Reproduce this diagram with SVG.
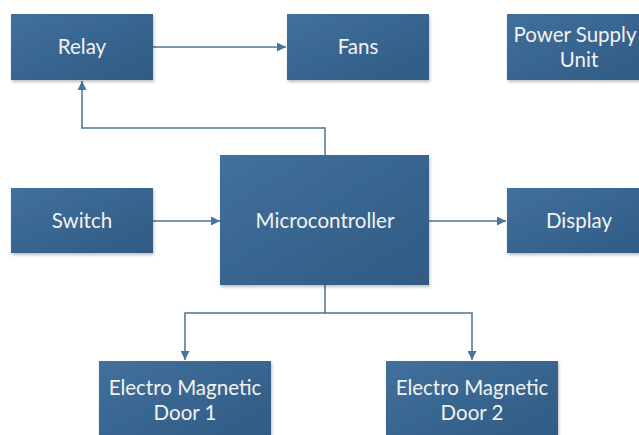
<svg xmlns="http://www.w3.org/2000/svg" width="639" height="435" viewBox="0 0 639 435">
  <defs>
    <linearGradient id="g" x1="0" y1="0" x2="1" y2="1">
      <stop offset="0" stop-color="#41709c"/>
      <stop offset="1" stop-color="#2f5b83"/>
    </linearGradient>
    <filter id="sh" x="-10%" y="-10%" width="120%" height="130%">
      <feDropShadow dx="1" dy="2" stdDeviation="1.5" flood-color="#000" flood-opacity="0.25"/>
    </filter>
    <marker id="ah" viewBox="0 0 10 10" refX="10" refY="5" markerWidth="9" markerHeight="9" markerUnits="userSpaceOnUse" orient="auto">
      <path d="M0,0 L10,5 L0,10 z" fill="#4a7398"/>
    </marker>
  </defs>
  <style>
    .box { fill: url(#g); filter: url(#sh); }
    .t { fill: #f2f2f2; font-family: Lato, "Open Sans", sans-serif; font-size: 20.5px; text-anchor: middle; dominant-baseline: central; }
    .c { fill: none; stroke: #4a7398; stroke-width: 1.5; marker-end: url(#ah); }
  </style>
  <rect width="639" height="435" fill="#ffffff"/>
  <g id="connectors">
    <path class="c" d="M153,47 H286"/>
    <path class="c" d="M325,155 V128 H82 V81"/>
    <path class="c" d="M153,221 H220"/>
    <path class="c" d="M429,221 H506"/>
    <path class="c" d="M325,285 V313 H185 V360"/>
    <path class="c" d="M325,313 H472 V360"/>
  </g>
  <g id="relay"><rect class="box" x="11" y="14" width="142" height="66"/><text class="t" x="82" y="46">Relay</text></g>
  <g id="fans"><rect class="box" x="287" y="14" width="142" height="66"/><text class="t" x="358" y="46">Fans</text></g>
  <g id="psu"><rect class="box" x="507" y="14" width="142" height="66"/><text class="t" x="575" y="34">Power Supply</text><text class="t" x="579" y="59">Unit</text></g>
  <g id="switch"><rect class="box" x="11" y="188" width="142" height="65"/><text class="t" x="82" y="220">Switch</text></g>
  <g id="microcontroller"><rect class="box" x="220" y="155" width="209" height="130"/><text class="t" x="325" y="220">Microcontroller</text></g>
  <g id="display"><rect class="box" x="507" y="188" width="142" height="65"/><text class="t" x="579" y="220">Display</text></g>
  <g id="door1"><rect class="box" x="99" y="361" width="172" height="80"/><text class="t" x="185" y="387">Electro Magnetic</text><text class="t" x="185" y="412">Door 1</text></g>
  <g id="door2"><rect class="box" x="386" y="361" width="172" height="80"/><text class="t" x="472" y="387">Electro Magnetic</text><text class="t" x="472" y="412">Door 2</text></g>
</svg>
